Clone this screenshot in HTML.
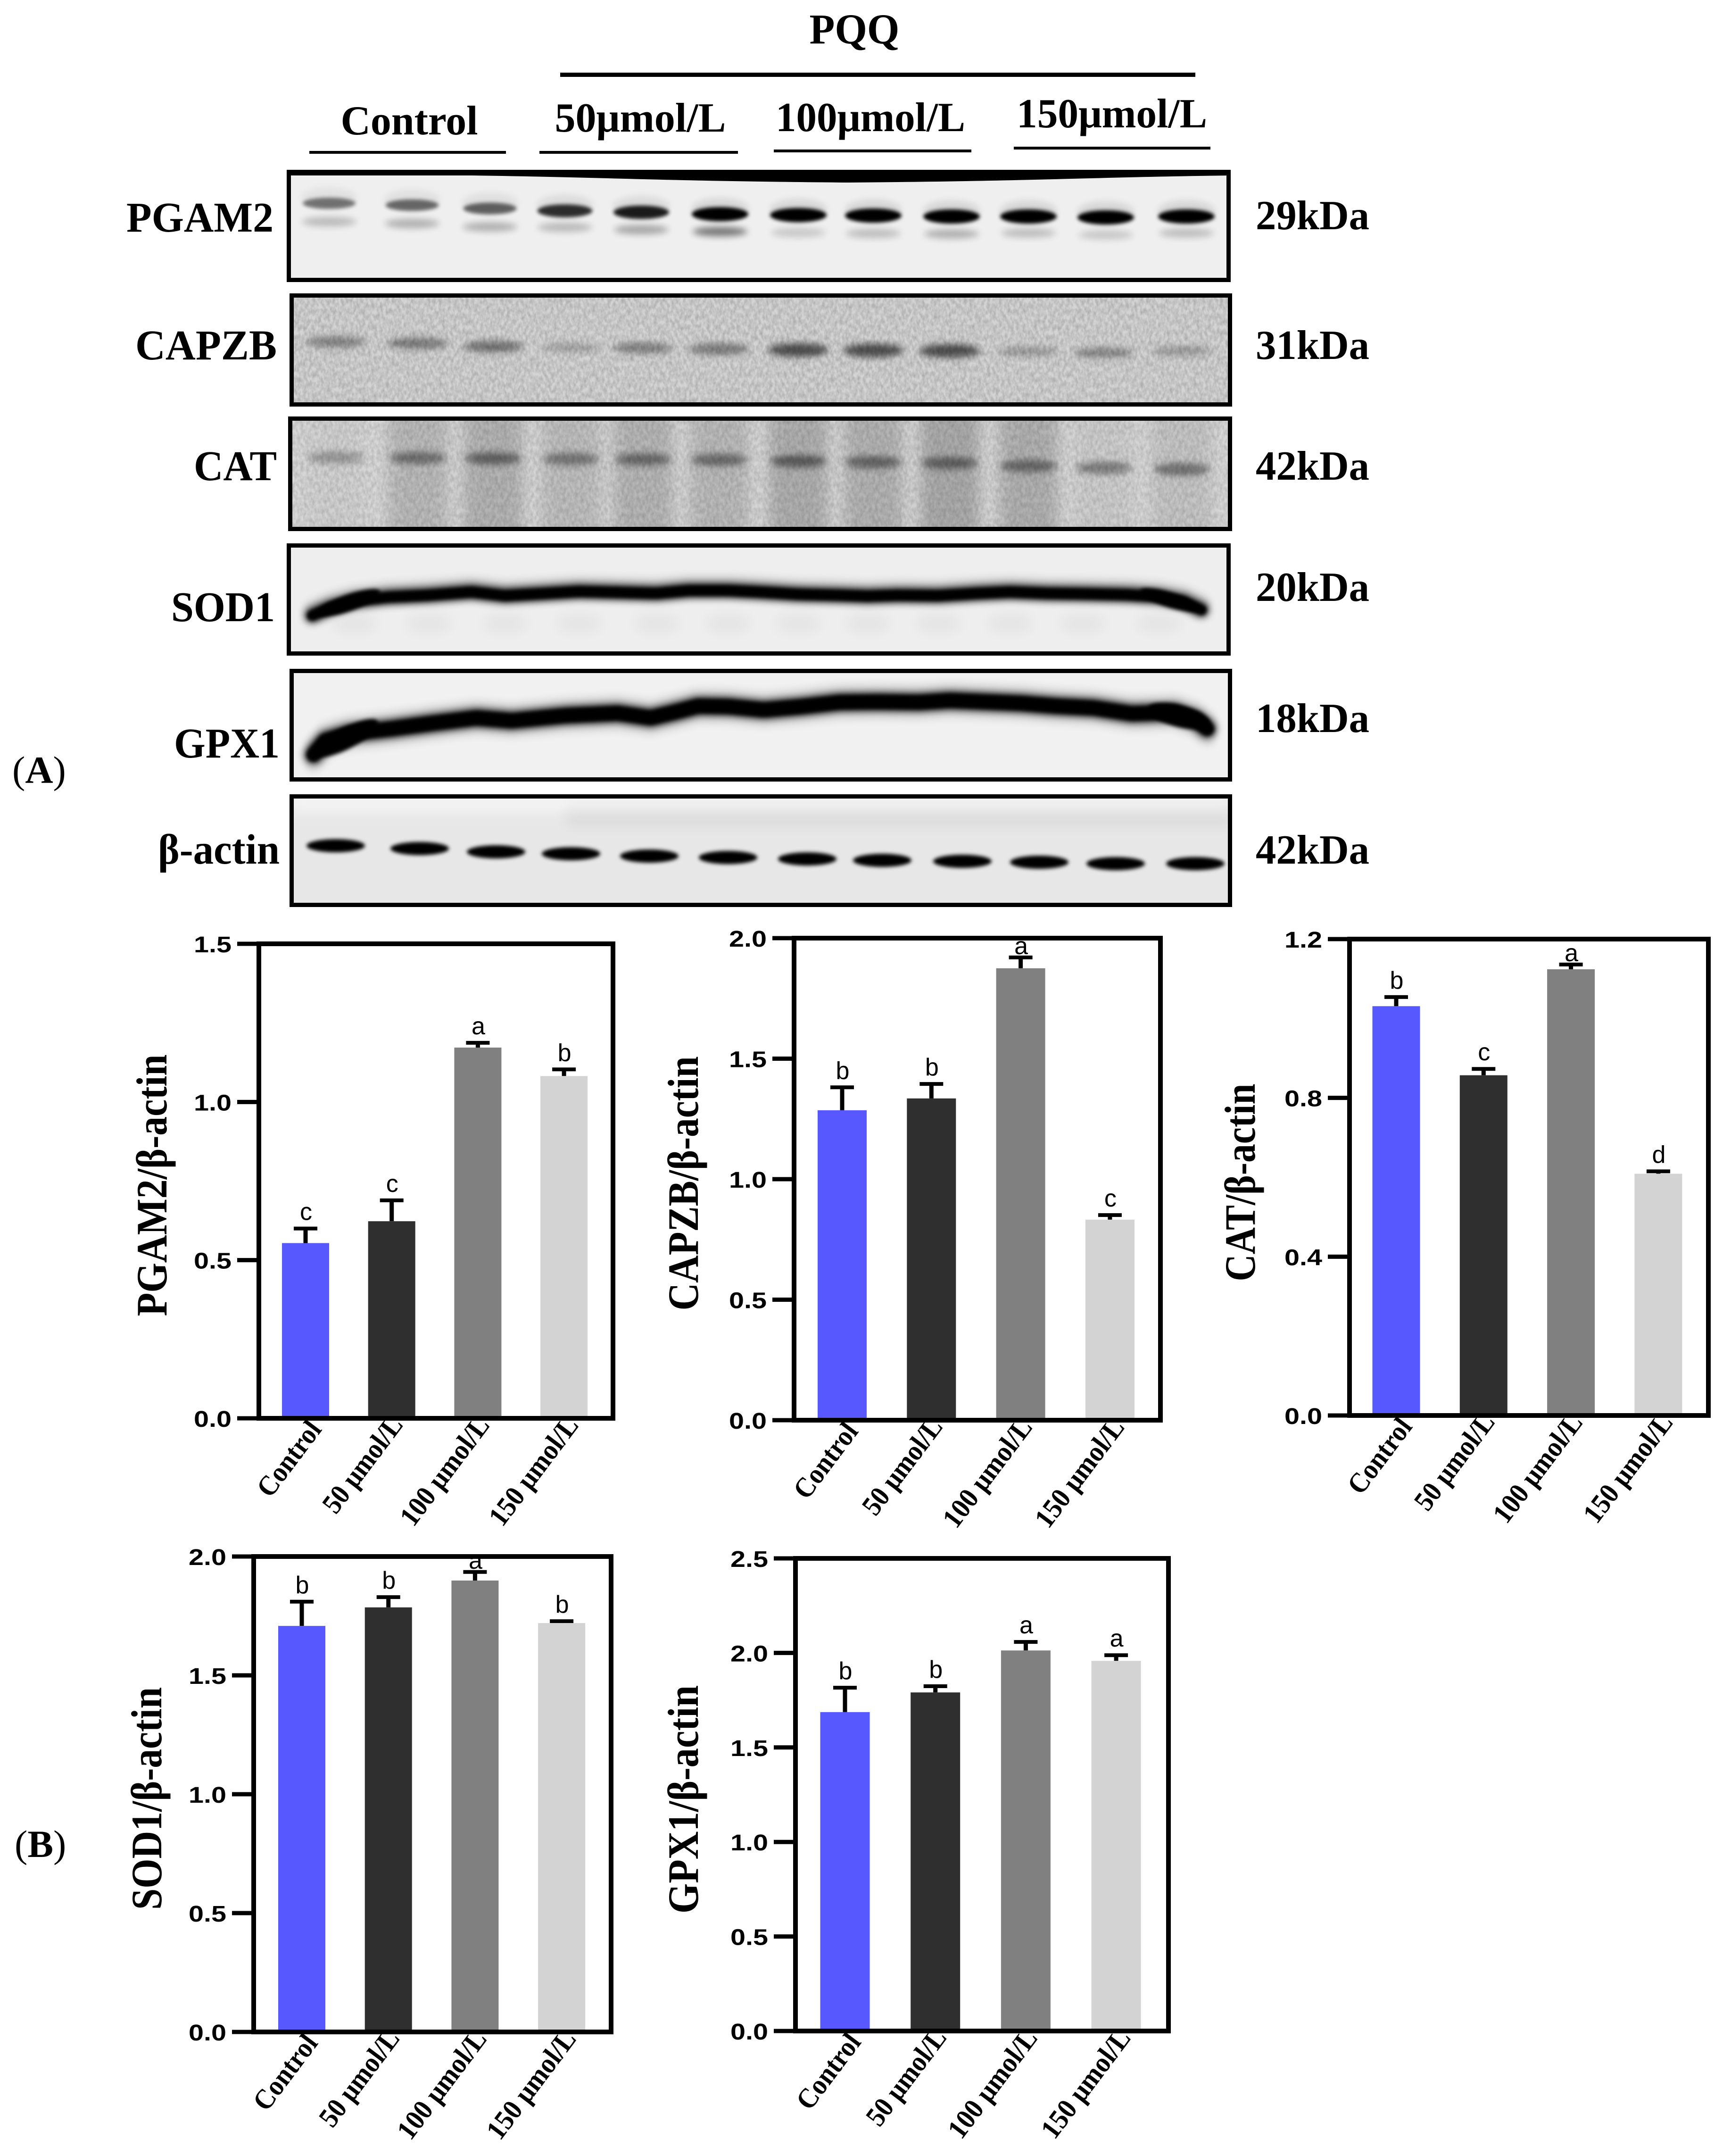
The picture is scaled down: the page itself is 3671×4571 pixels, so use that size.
<!DOCTYPE html>
<html lang="en">
<head>
<meta charset="utf-8">
<title>PQQ western blots and quantification</title>
<style>
html,body{margin:0;padding:0;background:#fff;}
svg{display:block;}
.serif{font-family:"Liberation Serif",serif;font-weight:bold;fill:#000;}
.sans{font-family:"Liberation Sans",sans-serif;fill:#000;}
</style>
</head>
<body>
<svg id="figure" xmlns="http://www.w3.org/2000/svg" width="3671" height="4571" viewBox="0 0 3671 4571">
<defs>
<filter id="blur3" x="-30%" y="-100%" width="160%" height="300%"><feGaussianBlur stdDeviation="4"/></filter>
<filter id="blur6" x="-40%" y="-200%" width="180%" height="500%"><feGaussianBlur stdDeviation="7"/></filter>
<filter id="curve3" filterUnits="userSpaceOnUse" x="560" y="1100" width="2100" height="600"><feGaussianBlur stdDeviation="4"/></filter>
<filter id="curve6" filterUnits="userSpaceOnUse" x="560" y="1100" width="2100" height="600"><feGaussianBlur stdDeviation="8"/></filter>
<filter id="blur14" x="-70%" y="-70%" width="240%" height="240%"><feGaussianBlur stdDeviation="14"/></filter>
<filter id="noise" x="0" y="0" width="100%" height="100%">
<feTurbulence type="fractalNoise" baseFrequency="0.16 0.09" numOctaves="2" seed="7"/>
<feColorMatrix type="matrix" values="0 0 0 0 0  0 0 0 0 0  0 0 0 0 0  1.6 0 0 0 -0.45"/>
</filter>
</defs>
<rect width="3671" height="4571" fill="#fff"/>
<g id="blots"></g>
<g id="charts"></g>
<text class="serif" x="1812" y="92" font-size="90" text-anchor="middle" textLength="191" lengthAdjust="spacingAndGlyphs">PQQ</text>
<rect x="1188" y="154" width="1347" height="9" fill="#000"/>
<text class="serif" x="868" y="285" font-size="88" text-anchor="middle" textLength="291" lengthAdjust="spacingAndGlyphs">Control</text>
<rect x="656" y="320" width="417" height="6" fill="#000"/>
<text class="serif" x="1358" y="279" font-size="88" text-anchor="middle" textLength="363" lengthAdjust="spacingAndGlyphs">50μmol/L</text>
<rect x="1144" y="320" width="421" height="6" fill="#000"/>
<text class="serif" x="1846" y="278" font-size="88" text-anchor="middle" textLength="402" lengthAdjust="spacingAndGlyphs">100μmol/L</text>
<rect x="1641" y="317" width="419" height="6" fill="#000"/>
<text class="serif" x="2358" y="270" font-size="88" text-anchor="middle" textLength="404" lengthAdjust="spacingAndGlyphs">150μmol/L</text>
<rect x="2150" y="311" width="417" height="6" fill="#000"/>
<text x="26" y="1660" font-size="82" font-family="Liberation Serif, serif" fill="#000">(<tspan font-weight="bold">A</tspan>)</text>
<text x="31" y="3937" font-size="82" font-family="Liberation Serif, serif" fill="#000">(<tspan font-weight="bold">B</tspan>)</text>
</svg>
<script>
// ---------- chart data ----------
const categories = ["Control", "50 μmol/L", "100 μmol/L", "150 μmol/L"];
const barColors = ["#5858ff", "#2f2f2f", "#808080", "#d3d3d3"];

const pgam2Ticks = ["0.0", "0.5", "1.0", "1.5"];
const pgam2Values = [0.554, 0.623, 1.172, 1.082];
const pgam2Errors = [0.046, 0.066, 0.015, 0.021];
const pgam2Letters = ["c", "c", "a", "b"];

const capzbTicks = ["0.0", "0.5", "1.0", "1.5", "2.0"];
const capzbValues = [1.286, 1.335, 1.875, 0.832];
const capzbErrors = [0.095, 0.060, 0.045, 0.019];
const capzbLetters = ["b", "b", "a", "c"];

const catTicks = ["0.0", "0.4", "0.8", "1.2"];
const catValues = [1.031, 0.857, 1.124, 0.609];
const catErrors = [0.023, 0.016, 0.012, 0.006];
const catLetters = ["b", "c", "a", "d"];

const sod1Ticks = ["0.0", "0.5", "1.0", "1.5", "2.0"];
const sod1Values = [1.708, 1.786, 1.899, 1.720];
const sod1Errors = [0.102, 0.043, 0.036, 0.008];
const sod1Letters = ["b", "b", "a", "b"];

const gpx1Ticks = ["0.0", "0.5", "1.0", "1.5", "2.0", "2.5"];
const gpx1Values = [1.687, 1.791, 2.013, 1.958];
const gpx1Errors = [0.129, 0.033, 0.045, 0.030];
const gpx1Letters = ["b", "b", "a", "a"];

// ---------- blot band readings ----------
const pgam2BandY = [431,435,442,447,450,454,456,457,459,459,461,459];
const pgam2BandDark = [.5,.55,.58,.8,.88,1,1,1,1,1,1,1];
const pgam2BandX = [698,874,1039,1198,1360,1527,1693,1852,2018,2181,2345,2516];
const pgam2LowerY = [468,472,479,480,485,489,491,493,494,492,496,492];
const pgam2LowerDark = [.22,.26,.26,.22,.3,.5,.16,.2,.26,.2,.16,.2];
const capzbBandX = [712,886,1046,1211,1364,1525,1693,1852,2014,2181,2341,2506];
const capzbBandY = [725,728,735,737,738,740,742,743,744,745,748,744];
const capzbBandDark = [.5,.55,.6,.28,.5,.55,.85,.85,.85,.34,.45,.34];
const catBandY = [970,971,972,973,974,975,978,980,982,988,992,995];
const catBandDark = [.26,.4,.45,.38,.42,.42,.48,.44,.44,.42,.38,.42];
const catLaneDark = [.02,.13,.16,.11,.15,.13,.18,.16,.2,.17,.04,.08];
const actinBandX = [712,890,1052,1211,1377,1544,1712,1871,2041,2204,2366,2535];
const actinBandY = [1793,1799,1806,1810,1815,1818,1821,1824,1826,1828,1831,1831];
const sod1CurveX = [662,700,752,822,908,1000,1071,1159,1228,1312,1392,1460,1544,1608,1693,1780,1840,1905,1990,2073,2142,2220,2295,2390,2458,2510,2548];
const sod1CurveY = [1305,1288,1274,1266,1262,1255,1263,1258,1254,1256,1258,1252,1252,1255,1260,1262,1264,1262,1263,1258,1255,1258,1259,1261,1265,1275,1293];
const sod1LaneX = [752,909,1071,1228,1393,1544,1693,1840,1990,2142,2296,2458];
const gpx1CurveX = [665,690,740,830,920,1010,1085,1200,1310,1380,1430,1480,1545,1620,1700,1780,1860,1950,2015,2090,2165,2240,2320,2400,2490,2535,2560];
const gpx1CurveY = [1600,1570,1555,1545,1533,1522,1528,1517,1512,1522,1510,1497,1498,1505,1498,1489,1488,1489,1485,1488,1491,1497,1501,1513,1510,1525,1545];

const NS = "http://www.w3.org/2000/svg";
function el(tag, attrs, parent, content) {
  const node = document.createElementNS(NS, tag);
  for (const k in attrs) node.setAttribute(k, attrs[k]);
  if (content !== undefined) node.textContent = content;
  parent.appendChild(node);
  return node;
}

// ---------- blots ----------
const blotRoot = document.getElementById("blots");
const blotDefs = document.querySelector("defs");

function makeBlot(key, x0, y0, x1, y1, bg, labelText, labelRight, labelWidth, labelBase, kdaText, kdaBase, drawFn) {
  const g = el("g", {}, blotRoot);
  
  
  const clip = el("clipPath", { id: "clip-" + key }, blotDefs);
  el("rect", { x: x0, y: y0, width: x1 - x0, height: y1 - y0 }, clip);
  const bgRect = el("rect", { x: x0, y: y0, width: x1 - x0, height: y1 - y0, fill: bg }, g);
  
  
  const inner = el("g", { "clip-path": "url(#clip-" + key + ")" }, g);
  drawFn(inner, x0, y0, x1, y1);
  const border = el("rect", { x: x0 + 4.5, y: y0 + 4.5, width: x1 - x0 - 9, height: y1 - y0 - 9, fill: "none", stroke: "#000", "stroke-width": 9 }, g);
  
  
  const label = el("text", { class: "serif", x: labelRight, y: labelBase, "font-size": 90, "text-anchor": "end", textLength: labelWidth, lengthAdjust: "spacingAndGlyphs" }, g, labelText);
  
  
  const kda = el("text", { class: "serif", x: 2663, y: kdaBase, "font-size": 88, textLength: 241, lengthAdjust: "spacingAndGlyphs" }, g, kdaText);
  
  
}

function band(parent, cx, cy, rx, ry, dark, filter) {
  const b = el("ellipse", { cx: cx, cy: cy, rx: rx, ry: ry, fill: "#000", opacity: dark, filter: "url(#" + filter + ")" }, parent);
  
  
  return b;
}

function noiseLayer(parent, x0, y0, x1, y1, op) {
  const n = el("rect", { x: x0, y: y0, width: x1 - x0, height: y1 - y0, filter: "url(#noise)", opacity: op }, parent);
  
  
}

function smearCurve(parent, xs, ys, width, filter, dark) {
  const d = xs.map((x, i) => (i ? "L" : "M") + x + " " + ys[i]).join(" ");
  const c = el("path", { d: d, fill: "none", stroke: "#000", "stroke-width": width, "stroke-linecap": "round", "stroke-linejoin": "round", opacity: dark, filter: "url(#" + filter + ")" }, parent);
  
  
}

makeBlot("pgam2", 608, 360, 2610, 598, "#efefef", "PGAM2", 580, 312, 491, "29kDa", 486, function (g, x0, y0, x1) {
  const edge = el("path", { d: "M608 360 L2610 360 L2610 372 C2300 376 2200 384 1800 387 C1400 384 1300 376 1000 372 L608 372 Z", fill: "#000" }, g);
  
  
  pgam2BandX.forEach((x, i) => {
    band(g, x, pgam2LowerY[i] + 2, 58, 10, pgam2LowerDark[i], "blur6");
    band(g, x, pgam2BandY[i] - 12, 60, 22, pgam2BandDark[i] * 0.1, "blur6");
    band(g, x, pgam2BandY[i], 52 + pgam2BandDark[i] * 8, 9 + pgam2BandDark[i] * 6, pgam2BandDark[i], "blur3");
  });
});

makeBlot("capzb", 614, 622, 2613, 862, "#d4d4d4", "CAPZB", 587, 300, 762, "31kDa", 761, function (g, x0, y0, x1, y1) {
  noiseLayer(g, x0, y0, x1, y1, 0.2);
  capzbBandX.forEach((x, i) => {
    band(g, x, capzbBandY[i], 64, 7 + capzbBandDark[i] * 9, capzbBandDark[i] * 0.72, "blur6");
  });
});

makeBlot("cat", 611, 883, 2613, 1126, "#d8d8d8", "CAT", 587, 176, 1018, "42kDa", 1017, function (g, x0, y0, x1, y1) {
  capzbBandX.forEach((x, i) => {
    const lane = el("rect", { x: x - 62, y: y0 - 30, width: 124, height: y1 - y0 + 60, fill: "#000", opacity: catLaneDark[i], filter: "url(#blur14)" }, g);
    
    
  });
  noiseLayer(g, x0, y0, x1, y1, 0.16);
  capzbBandX.forEach((x, i) => {
    band(g, x, catBandY[i], 60, 13, catBandDark[i], "blur6");
  });
});

makeBlot("sod1", 608, 1152, 2610, 1390, "#eeeeee", "SOD1", 583, 220, 1317, "20kDa", 1274, function (g) {
  sod1LaneX.forEach(x => {
    band(g, x, 1322, 50, 22, 0.035, "blur14");
  });
  smearCurve(g, sod1CurveX, sod1CurveY.map(y => y - 14), 34, "curve6", 0.14);
  smearCurve(g, sod1CurveX, sod1CurveY, 30, "curve6", 1);
  smearCurve(g, sod1CurveX, sod1CurveY, 20, "curve3", 1);
  const left = band(g, 740, 1278, 70, 17, 1, "blur3");
  left.setAttribute("transform", "rotate(-20 740 1278)");
  const right = band(g, 2480, 1272, 65, 15, 1, "blur3");
  right.setAttribute("transform", "rotate(18 2480 1272)");
});

makeBlot("gpx1", 614, 1418, 2613, 1657, "#f1f1f1", "GPX1", 593, 224, 1606, "18kDa", 1552, function (g) {
  smearCurve(g, gpx1CurveX, gpx1CurveY.map(y => y - 20), 34, "curve6", 0.12);
  smearCurve(g, gpx1CurveX, gpx1CurveY.map(y => y + 20), 34, "curve6", 0.1);
  smearCurve(g, gpx1CurveX, gpx1CurveY, 38, "curve6", 1);
  smearCurve(g, gpx1CurveX, gpx1CurveY, 28, "curve3", 1);
  const left = band(g, 735, 1565, 75, 22, 1, "blur3");
  left.setAttribute("transform", "rotate(-28 735 1565)");
  const right = band(g, 2500, 1518, 68, 23, 1, "blur3");
  right.setAttribute("transform", "rotate(14 2500 1518)");
});

makeBlot("beta-actin", 614, 1684, 2613, 1923, "#e7e7e7", "β-actin", 593, 258, 1831, "42kDa", 1831, function (g, x0, y0, x1) {
  const haze = el("rect", { x: 1200, y: 1700, width: x1 - 1200, height: 50, fill: "#000", opacity: 0.05, filter: "url(#blur14)" }, g);
  
  
  const light = el("rect", { x: x0, y: 1684, width: x1 - x0, height: 36, fill: "#fff", opacity: 0.6, filter: "url(#blur14)" }, g);
  
  
  actinBandX.forEach((x, i) => {
    band(g, x, actinBandY[i], 62, 14, 1, "blur3");
  });
});

// ---------- bar charts ----------
const chartRoot = document.getElementById("charts");
const tickLabelWidth = 80;

function drawChart(key, title, ticks, values, errors, letters, box) {
  const g = el("g", {}, chartRoot);
  
  

  const yMax = parseFloat(ticks[ticks.length - 1]);
  const yScale = v => box.bottom - (v / yMax) * (box.bottom - box.top);
  const xCenter = i => box.firstCenter + i * box.step;

  // bars, error bars, significance letters
  values.forEach((v, i) => {
    const cx = xCenter(i);
    const top = yScale(v);
    const capY = yScale(v + errors[i]);

    const stem = el("line", { x1: cx, x2: cx, y1: top, y2: capY, stroke: "#000", "stroke-width": 9 }, g);
    
    

    const cap = el("line", { x1: cx - 25, x2: cx + 25, y1: capY, y2: capY, stroke: "#000", "stroke-width": 8 }, g);
    
    

    const bar = el("rect", { x: cx - box.barWidth / 2, y: top, width: box.barWidth, height: yScale(0) - top, fill: barColors[i] }, g);
    
    

    const gap = capY - box.top < 60 ? 7 : 18;
    const letter = el("text", { class: "sans", x: cx + 1, y: capY - gap, "font-size": 52, "text-anchor": "middle" }, g, letters[i]);
    
    

    const labelLength = [184, 240, 272, 272][i];
    const tx = cx + [36, 26, 27, 33][i];
    const ty = box.bottom + [24, 14, 15, 15][i];
    const xLabel = el("text", { class: "serif", x: tx, y: ty, "font-size": 60, "text-anchor": "end", textLength: labelLength, lengthAdjust: "spacingAndGlyphs", transform: "rotate(-53 " + tx + " " + ty + ")" }, g, categories[i]);
    
    
  });

  // frame
  const frame = el("rect", { x: box.left, y: box.top, width: box.right - box.left, height: box.bottom - box.top, fill: "none", stroke: "#000", "stroke-width": 10 }, g);
  
  

  // y ticks
  ticks.forEach(t => {
    const y = yScale(parseFloat(t));
    const mark = el("line", { x1: box.left - 46, x2: box.left, y1: y, y2: y, stroke: "#000", "stroke-width": 9 }, g);
    
    
    const label = el("text", { class: "sans", x: box.left - 58, y: y + 18, "font-size": 48, "font-weight": "bold", "text-anchor": "end", textLength: tickLabelWidth, lengthAdjust: "spacingAndGlyphs" }, g, t);
    
    
  });

  // y title
  const titleY = box.titleCenter;
  const yTitle = el("text", { class: "serif", x: box.titleX, y: titleY, "font-size": 92, "text-anchor": "middle", textLength: box.titleLength, lengthAdjust: "spacingAndGlyphs", transform: "rotate(-90 " + box.titleX + " " + titleY + ")" }, g, title);
  
  
}

drawChart("pgam2", "PGAM2/β-actin", pgam2Ticks, pgam2Values, pgam2Errors, pgam2Letters,
  { left: 549, right: 1300, top: 2001, bottom: 3007, firstCenter: 648, step: 182.7, barWidth: 100, titleX: 353, titleCenter: 2513, titleLength: 555 });
drawChart("capzb", "CAPZB/β-actin", capzbTicks, capzbValues, capzbErrors, capzbLetters,
  { left: 1684, right: 2461, top: 1989, bottom: 3011, firstCenter: 1786, step: 189.3, barWidth: 104, titleX: 1480, titleCenter: 2509, titleLength: 539 });
drawChart("cat", "CAT/β-actin", catTicks, catValues, catErrors, catLetters,
  { left: 2862, right: 3623, top: 1991, bottom: 3001, firstCenter: 2961, step: 185.3, barWidth: 101, titleX: 2661, titleCenter: 2507, titleLength: 419 });
drawChart("sod1", "SOD1/β-actin", sod1Ticks, sod1Values, sod1Errors, sod1Letters,
  { left: 538, right: 1296, top: 3300, bottom: 4308, firstCenter: 640, step: 183.7, barWidth: 100, titleX: 342, titleCenter: 3813, titleLength: 472 });
drawChart("gpx1", "GPX1/β-actin", gpx1Ticks, gpx1Values, gpx1Errors, gpx1Letters,
  { left: 1687, right: 2478, top: 3304, bottom: 4306, firstCenter: 1792, step: 191.7, barWidth: 105, titleX: 1480, titleCenter: 3815, titleLength: 484 });
</script>
</body>
</html>
